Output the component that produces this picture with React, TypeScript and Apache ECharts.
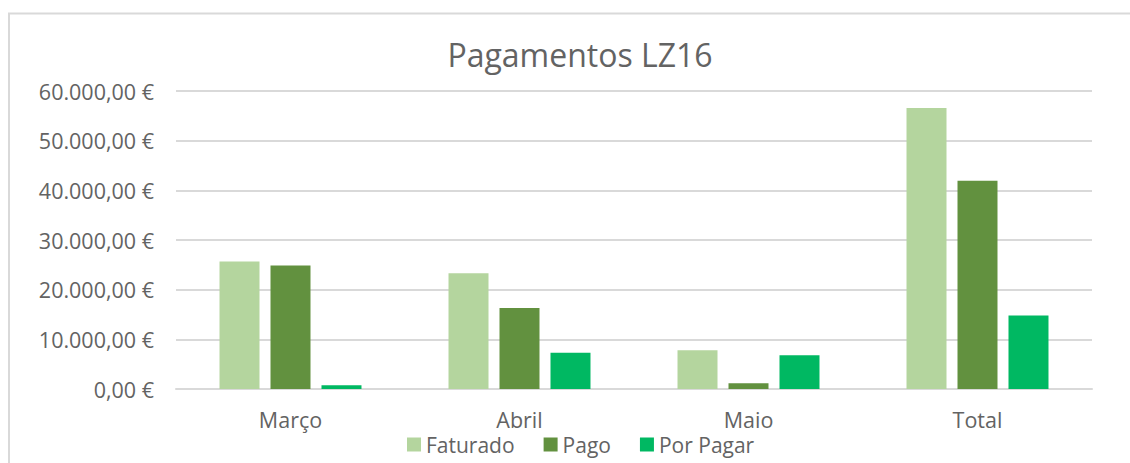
import React, { useEffect, useRef } from "react";
import * as echarts from "echarts";

const title = "Pagamentos LZ16";
const categories = ["Março", "Abril", "Maio", "Total"];
const seriesNames = ["Faturado", "Pago", "Por Pagar"];
const faturado = [25650, 23320, 7800, 56600];
const pago = [24850, 16330, 1150, 41950];
const porPagar = [750, 7320, 6790, 14780];
const yTicks = { min: 0, max: 60000, interval: 10000 };
const colors = ["#B4D59E", "#62913F", "#00B862"];

const fmt = (v: number) => {
  const s = Math.round(v).toString().replace(/\B(?=(\d{3})+(?!\d))/g, ".");
  return s + ",00 €";
};

export default function App() {
  const ref = useRef<HTMLDivElement>(null);
  useEffect(() => {
    if (!ref.current) return;
    const chart = echarts.init(ref.current, undefined, { renderer: "svg" });
    const font = "Open Sans";
    const textColor = "#636363";
    chart.setOption({
      animation: false,
      backgroundColor: "#ffffff",
      title: {
        text: title,
        left: 575,
        textAlign: "center",
        top: 33,
        textStyle: { fontFamily: font, fontSize: 32, fontWeight: "normal", color: textColor },
      },
      legend: {
        data: seriesNames,
        left: 402,
        top: 429,
        itemWidth: 14,
        itemHeight: 14,
        itemGap: 29,
        icon: "rect",
        textStyle: { fontFamily: font, fontSize: 21, color: textColor, lineHeight: 18 },
      },
      grid: { left: 176, right: 38, top: 91, bottom: 74 },
      xAxis: {
        type: "category",
        data: categories,
        axisLine: { lineStyle: { color: "#D9D9D9", width: 2 } },
        axisTick: { show: false },
        axisLabel: { fontFamily: font, fontSize: 21.5, color: textColor, margin: 21, lineHeight: 18 },
      },
      yAxis: {
        type: "value",
        min: yTicks.min,
        max: yTicks.max,
        interval: yTicks.interval,
        axisLine: { show: false },
        axisTick: { show: false },
        splitLine: { lineStyle: { color: "#D9D9D9", width: 2 } },
        axisLabel: { fontFamily: font, fontSize: 21.5, color: textColor, margin: 22, formatter: fmt },
      },
      series: [faturado, pago, porPagar].map((d, i) => ({
        name: seriesNames[i],
        type: "bar",
        data: d,
        barGap: "27.5%",
        barCategoryGap: "38%",
        itemStyle: { color: colors[i] },
      })),
      graphic: [
        { type: "line", shape: { x1: 8, y1: 13.5, x2: 1130, y2: 13.5 }, style: { stroke: "#D9D9D9", lineWidth: 2 } },
        { type: "line", shape: { x1: 9, y1: 13, x2: 9, y2: 463 }, style: { stroke: "#D9D9D9", lineWidth: 2 } },
      ],
    });
    return () => chart.dispose();
  }, []);
  return (
    <div
      ref={ref}
      style={{ position: "absolute", left: 0, top: 0, width: 1130, height: 463 }}
    />
  );
}
